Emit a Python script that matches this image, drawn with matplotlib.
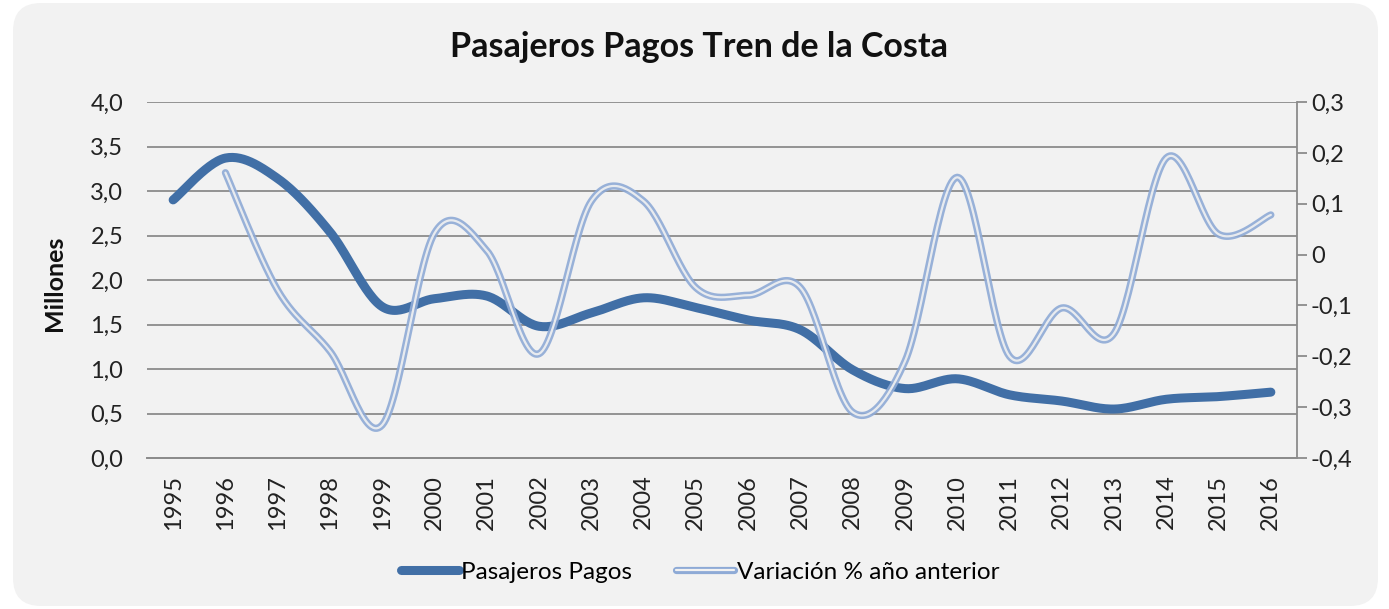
import numpy as np
import matplotlib.pyplot as plt
import matplotlib.patheffects as pe
from matplotlib.patches import FancyBboxPatch
from matplotlib.lines import Line2D

plt.rcParams['font.family'] = ['Lato', 'DejaVu Sans']

years = list(range(1995, 2017))
pasajeros = [2.90, 3.37, 3.14, 2.54, 1.70, 1.79, 1.82, 1.48, 1.63, 1.80, 1.69,
             1.55, 1.44, 0.99, 0.78, 0.89, 0.71, 0.64, 0.55, 0.66, 0.69, 0.74]
# variacion: no value for the first year
var_years = list(range(1996, 2017))
variacion = [0.161, -0.07, -0.19, -0.335, 0.042, 0.008, -0.195, 0.105, 0.105, -0.065,
             -0.08, -0.065, -0.31, -0.21, 0.152, -0.20, -0.105, -0.155, 0.19, 0.04, 0.078]

left_ticks = [0.0, 0.5, 1.0, 1.5, 2.0, 2.5, 3.0, 3.5, 4.0]
right_ticks = [-0.4, -0.3, -0.2, -0.1, 0.0, 0.1, 0.2, 0.3]

DARK = '#416fa6'
LIGHT = '#8eaad6'
BG = '#f2f2f2'
GRID = '#8c8c8c'


def smooth(xs, ys, n=30):
    # excel style smoothed line (bezier through the points)
    xs = np.asarray(xs, float)
    ys = np.asarray(ys, float)
    P = np.column_stack([xs, ys])
    ext = np.vstack([P[0], P, P[-1]])
    out = []
    t = np.linspace(0, 1, n)[:, None]
    for i in range(len(P) - 1):
        p0 = ext[i + 1]
        p3 = ext[i + 2]
        c1 = p0 + (ext[i + 2] - ext[i]) / 6
        c2 = p3 - (ext[i + 3] - ext[i + 1]) / 6
        seg = (1 - t) ** 3 * p0 + 3 * (1 - t) ** 2 * t * c1 + 3 * (1 - t) * t ** 2 * c2 + t ** 3 * p3
        out.append(seg if i == 0 else seg[1:])
    out = np.vstack(out)
    return out[:, 0], out[:, 1]


fig = plt.figure(figsize=(13.89, 6.09), dpi=100)
fig.patch.set_facecolor('white')
bg = FancyBboxPatch((0.13, 0.03), 13.65, 6.03, boxstyle='round,pad=0,rounding_size=0.28',
                    transform=fig.dpi_scale_trans, facecolor=BG, edgecolor='none', zorder=-10)
fig.add_artist(bg)

ax = fig.add_axes([147 / 1389, 1 - 458 / 609, 1150 / 1389, 356 / 609])
ax.patch.set_visible(False)
ax2 = ax.twinx()
ax2.patch.set_visible(False)

xi = np.arange(len(years))
sx, sy = smooth(xi, pasajeros)
ax.plot(sx, sy, color=DARK, lw=6.5, solid_capstyle='round', zorder=3)

vx = np.array([years.index(y) for y in var_years])
tx, ty = smooth(vx, variacion)
ax2.plot(tx, ty, color=BG, lw=1.6, alpha=0.9, solid_capstyle='round', zorder=4,
         path_effects=[pe.Stroke(linewidth=5.2, foreground=LIGHT, alpha=0.9), pe.Normal()])

ax.set_xlim(-0.5, len(years) - 0.5)
ax.set_ylim(0, 4.0)
ax2.set_ylim(-0.4, 0.3)
ax.set_yticks(left_ticks)
ax.set_yticklabels([f'{v:.1f}'.replace('.', ',') for v in left_ticks])
ax2.set_yticks(right_ticks)
ax2.set_yticklabels(['0' if abs(v) < 1e-9 else f'{v:.1f}'.replace('.', ',') for v in right_ticks])
ax.set_xticks(xi)
ax.set_xticklabels([str(y) for y in years], rotation=90)

ax.grid(axis='y', color=GRID, lw=1.3)
ax.set_axisbelow(True)
for a in (ax, ax2):
    for s in ('top', 'left', 'right'):
        a.spines[s].set_visible(False)
    a.spines['bottom'].set_color(GRID)
    a.spines['bottom'].set_linewidth(1.3)
ax2.spines['right'].set_visible(True)
ax2.spines['right'].set_color(GRID)
ax2.spines['right'].set_linewidth(1.3)

ax.tick_params(axis='y', length=0, pad=17, labelsize=17, labelcolor='#222222')
ax.tick_params(axis='x', length=0, pad=12, labelsize=17, labelcolor='#222222')
ax2.tick_params(axis='y', length=7, width=1.3, color=GRID, pad=3, labelsize=17, labelcolor='#222222')

fig.text(699 / 1389, 1 - 47 / 609, 'Pasajeros Pagos Tren de la Costa', ha='center', va='center',
         fontsize=24.5, fontweight='bold', color='#111111')
fig.text(55 / 1389, 1 - 283 / 609, 'Millones', ha='center', va='center', rotation=90,
         fontsize=18, fontweight='bold', color='#111111')

h1 = Line2D([0], [0], color=DARK, lw=6.5, solid_capstyle='round')
h2 = Line2D([0], [0], color=BG, lw=1.6, solid_capstyle='round',
            path_effects=[pe.Stroke(linewidth=5.2, foreground=LIGHT), pe.Normal()])
fig.legend([h1, h2], ['Pasajeros Pagos', 'Variación % año anterior'], loc='center',
           bbox_to_anchor=(700 / 1389, 1 - 572 / 609), ncol=2, frameon=False, fontsize=17.5,
           handlelength=2.4, handletextpad=0.1, columnspacing=1.8)

fig.savefig('out.png', dpi=100)
